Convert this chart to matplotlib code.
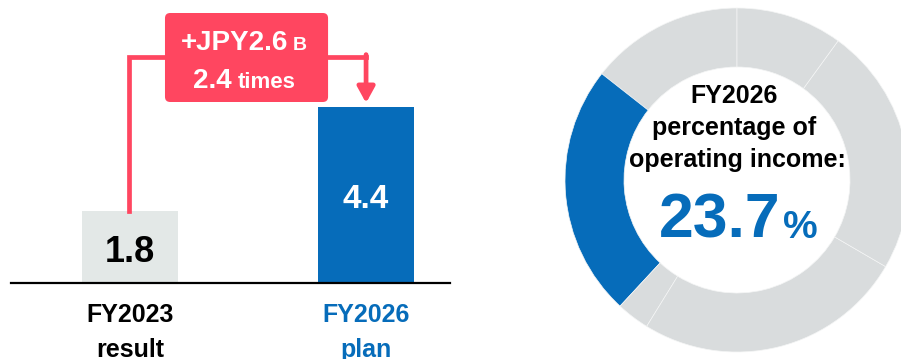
import numpy as np
import matplotlib.pyplot as plt
from matplotlib.patches import FancyBboxPatch

plt.rcParams['font.family'] = ['Liberation Sans', 'DejaVu Sans']
plt.rcParams['font.weight'] = 'bold'

# operating income, JPY billions
labels_top = ['FY2023', 'FY2026']
labels_bottom = ['result', 'plan']
values = [1.8, 4.4]
value_labels = ['1.8', '4.4']
increase_label = '+JPY2.6'
increase_unit = 'B'
ratio_label = '2.4'
ratio_unit = 'times'

# FY2026 share of operating income by segment (%), counterclockwise from 12 o'clock
share = [14.4, 23.7, 3.1, 25.4, 23.4, 10.0]
highlight = 1
share_label = '23.7'

RED = '#FF4660'
BLUE = '#066CBA'
BAR_GRAY = '#E3E8E7'
RING_GRAY = '#D9DCDD'

W, H = 901, 359
fig = plt.figure(figsize=(W / 100, H / 100), dpi=100)

# ---- bar chart ----
base_px = 283
ax = fig.add_axes([0, (H - base_px) / H, 460 / W, base_px / H])
x = np.arange(len(values))
ax.set_xlim(-0.551, 1.398)
ax.set_ylim(0, base_px / 40)
ax.axis('off')

ax.bar(x, values, width=0.405, color=[BAR_GRAY, BLUE], zorder=2)
ax.axhline(0, xmin=11 / 460, xmax=450 / 460, color='black', lw=1.6, clip_on=False, zorder=3)

ax.text(x[0], 0.52, value_labels[0], ha='center', va='baseline', fontsize=26, color='black')
ax.text(x[1], values[1] - 2.52, value_labels[1], ha='center', va='baseline', fontsize=24, color='white')

for i, col in enumerate(['black', BLUE]):
    ax.text(x[i], -0.98, labels_top[i], ha='center', va='baseline', fontsize=18,
            color=col, clip_on=False)
    ax.text(x[i], -1.84, labels_bottom[i], ha='center', va='baseline', fontsize=18,
            color=col, clip_on=False)

# bracket from the FY2023 bar to the FY2026 bar
y_top = 5.66
ax.plot([x[0] - 0.004, x[0] - 0.004, x[1], x[1]], [values[0], y_top, y_top, y_top],
        color=RED, lw=3.4, solid_joinstyle='miter', zorder=3)
ax.annotate('', xy=(x[1], values[1] + 0.1), xytext=(x[1], y_top + 0.05),
            arrowprops=dict(arrowstyle='-|>,head_length=0.95,head_width=0.52',
                            mutation_scale=10, color=RED, lw=3.4,
                            shrinkA=0, shrinkB=0), zorder=3)

box = FancyBboxPatch((0.148, 4.525), 0.691, 2.225,
                     boxstyle='round,pad=0,rounding_size=0.022',
                     mutation_aspect=5.9, fc=RED, ec='none', zorder=4)
ax.add_patch(box)
ax.text(0.670, 5.83, increase_label, ha='right', va='baseline', fontsize=20, color='white', zorder=5)
ax.text(0.690, 5.83, increase_unit, ha='left', va='baseline', fontsize=14, color='white', zorder=5)
ax.text(0.430, 4.88, ratio_label, ha='right', va='baseline', fontsize=20, color='white', zorder=5)
ax.text(0.455, 4.88, ratio_unit, ha='left', va='baseline', fontsize=16, color='white', zorder=5)

# ---- donut ----
cx, cy, r = 737, 180, 172
ax2 = fig.add_axes([(cx - r) / W, (H - cy - r) / H, 2 * r / W, 2 * r / H])
colors = [BLUE if i == highlight else RING_GRAY for i in range(len(share))]
ax2.pie(share, colors=colors, startangle=90, counterclock=True, radius=1,
        wedgeprops=dict(width=0.343, edgecolor='#F4F5F5', linewidth=0.5))
ax2.set_xlim(-1, 1)
ax2.set_ylim(-1, 1)
ax2.set_aspect('equal')
ax2.axis('off')

ax2.text(-0.015, 0.448, 'FY2026', ha='center', va='baseline', fontsize=18, color='black')
ax2.text(-0.015, 0.262, 'percentage of', ha='center', va='baseline', fontsize=18, color='black')
ax2.text(0.0, 0.076, 'operating income:', ha='center', va='baseline', fontsize=18, color='black')
ax2.text(0.255, -0.337, share_label, ha='right', va='baseline', fontsize=45, color=BLUE)
ax2.text(0.265, -0.337, '%', ha='left', va='baseline', fontsize=28, color=BLUE)

fig.savefig('out.png', dpi=100)
